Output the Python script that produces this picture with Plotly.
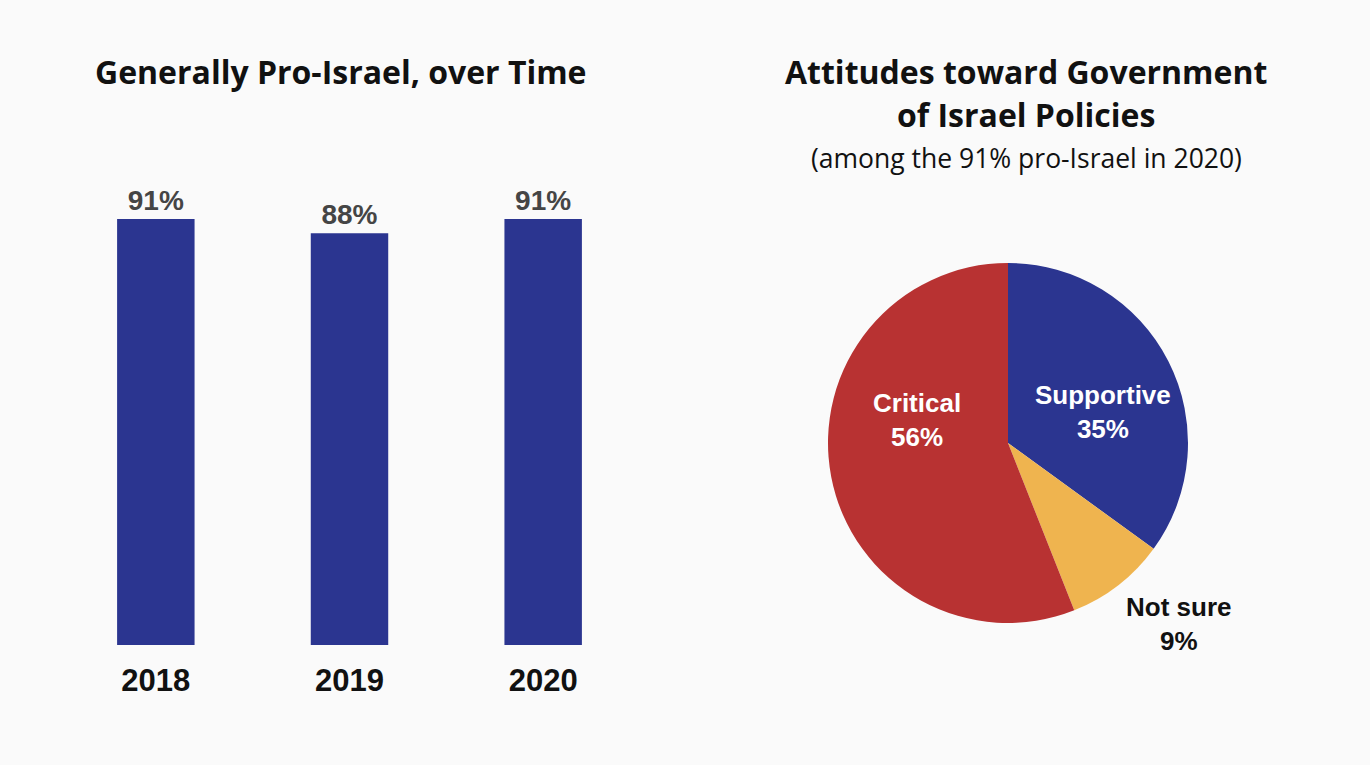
import plotly.graph_objects as go

years = ["2018", "2019", "2020"]
pro_israel = [91, 88, 91]

attitudes = ["Supportive", "Not sure", "Critical"]
attitude_vals = [35, 9, 56]

BLUE = "#2B3590"
RED = "#B83232"
ORANGE = "#EFB44F"
BG = "#FAFAFA"

W, H = 1370, 765

fig = go.Figure()

fig.add_trace(go.Bar(
    x=years, y=pro_israel,
    marker=dict(color=BLUE, line=dict(width=0)),
    width=0.40,
    texttemplate="<b>%{y}%</b>", textposition="outside",
    textfont=dict(family="Liberation Sans, Arial", size=28, color="#454545"),
    cliponaxis=False,
    showlegend=False,
    hoverinfo="skip",
))

fig.add_trace(go.Pie(
    labels=attitudes, values=attitude_vals,
    sort=False, direction="clockwise", rotation=0,
    marker=dict(colors=[BLUE, ORANGE, RED], line=dict(width=0)),
    textinfo="none",
    domain=dict(x=[828 / W, 1188 / W], y=[(H - 623) / H, (H - 263) / H]),
    showlegend=False,
    hoverinfo="skip",
))

# slice label placement (label centre in pixels) and colours
label_pos = {"Supportive": (1103, 412), "Not sure": (1178, 624), "Critical": (917, 420)}
label_col = {"Supportive": "white", "Not sure": "#111111", "Critical": "white"}

annotations = [
    dict(text="<b>Generally Pro-Israel, over Time</b>", x=341 / W, y=1 - 71 / H,
         xref="paper", yref="paper", showarrow=False, xanchor="center", yanchor="middle",
         font=dict(family="Open Sans", size=32, color="#111111")),
    dict(text="<b>Attitudes toward Government</b>", x=1026 / W, y=1 - 71 / H,
         xref="paper", yref="paper", showarrow=False, xanchor="center", yanchor="middle",
         font=dict(family="Open Sans", size=32, color="#111111")),
    dict(text="<b>of Israel Policies</b>", x=1026 / W, y=1 - 114 / H,
         xref="paper", yref="paper", showarrow=False, xanchor="center", yanchor="middle",
         font=dict(family="Open Sans", size=32, color="#111111")),
    dict(text="(among the 91% pro-Israel in 2020)", x=1026 / W, y=1 - 158 / H,
         xref="paper", yref="paper", showarrow=False, xanchor="center", yanchor="middle",
         font=dict(family="Open Sans", size=26.5, color="#111111")),
]
for lab, val in zip(attitudes, attitude_vals):
    px, py = label_pos[lab]
    annotations.append(dict(
        text=f"<b>{lab}</b><br><b>{val}%</b>", x=px / W, y=1 - py / H,
        xref="paper", yref="paper", showarrow=False, xanchor="center", yanchor="middle",
        align="center",
        font=dict(family="Liberation Sans, Arial", size=26, color=label_col[lab]),
    ))

fig.update_layout(
    width=W, height=H,
    margin=dict(l=0, r=0, t=0, b=0),
    paper_bgcolor=BG, plot_bgcolor=BG,
    xaxis=dict(domain=[59 / W, 640 / W], showgrid=False, zeroline=False,
               showline=False, ticks="",
               tickvals=years, ticktext=[f"<b>{y}</b>" for y in years],
               tickfont=dict(family="Liberation Sans, Arial", size=31, color="#111111"),
               ticklabelstandoff=14),
    yaxis=dict(domain=[(H - 645) / H, (H - 177) / H], range=[0, 100],
               visible=False, showgrid=False, zeroline=False),
    annotations=annotations,
)

fig.write_html("out.html")
